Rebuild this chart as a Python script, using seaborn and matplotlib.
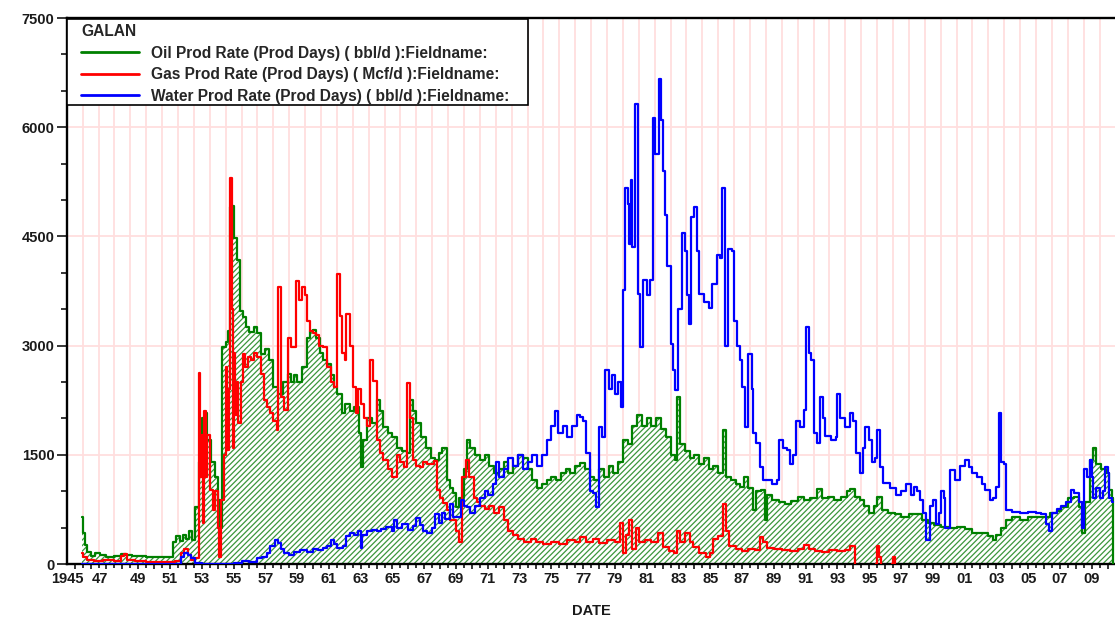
import matplotlib
matplotlib.use("Agg")
import matplotlib.pyplot as plt
import numpy as np
import pandas as pd
import seaborn as sns
from matplotlib.lines import Line2D
from matplotlib.patches import Rectangle
from matplotlib.transforms import ScaledTranslation
from matplotlib.ticker import FixedLocator, MultipleLocator, FuncFormatter

# ---------------- data ----------------
oil_t = [1945.45, 1945.55, 1945.65, 1945.8, 1946.0, 1946.3, 1946.6, 1947.0, 1947.5, 1947.9,
         1948.2, 1948.6, 1949.0, 1949.5, 1950.0, 1950.5, 1951.0, 1951.2, 1951.4, 1951.6,
         1951.8, 1952.0, 1952.2, 1952.4, 1952.6, 1952.8, 1953.0, 1953.2, 1953.35, 1953.55,
         1953.8, 1954.0, 1954.15, 1954.3, 1954.5, 1954.65, 1954.8, 1954.9, 1955.0, 1955.2,
         1955.4, 1955.6, 1955.75, 1956.0, 1956.3, 1956.5, 1956.7, 1957.0, 1957.2, 1957.5,
         1957.8, 1958.1, 1958.4, 1958.6, 1958.8, 1959.0, 1959.3, 1959.6, 1959.8, 1960.0,
         1960.2, 1960.45, 1960.6, 1960.9, 1961.1, 1961.3, 1961.5, 1961.8, 1962.0, 1962.3,
         1962.6, 1962.9, 1963.0, 1963.15, 1963.4, 1963.7, 1964.0, 1964.2, 1964.4, 1964.7,
         1965.0, 1965.3, 1965.6, 1965.9, 1966.1, 1966.3, 1966.5, 1966.8, 1967.1, 1967.4,
         1967.7, 1967.9, 1968.1, 1968.4, 1968.6, 1968.8, 1969.0, 1969.2, 1969.5, 1969.7,
         1969.9, 1970.2, 1970.5, 1970.8, 1971.1, 1971.4, 1971.7, 1972.0, 1972.3, 1972.6,
         1972.9, 1973.2, 1973.5, 1973.8, 1974.1, 1974.4, 1974.7, 1975.0, 1975.3, 1975.6,
         1975.9, 1976.2, 1976.5, 1976.8, 1977.1, 1977.4, 1977.7, 1978.0, 1978.3, 1978.6,
         1978.9, 1979.2, 1979.5, 1979.8, 1980.1, 1980.4, 1980.7, 1981.0, 1981.3, 1981.6,
         1981.9, 1982.2, 1982.5, 1982.8, 1982.9, 1983.1, 1983.4, 1983.7, 1984.0, 1984.3,
         1984.6, 1984.9, 1985.2, 1985.5, 1985.8, 1986.0, 1986.3, 1986.6, 1986.9, 1987.1,
         1987.4, 1987.7, 1987.9, 1988.2, 1988.45, 1988.6, 1988.9, 1989.3, 1989.7, 1990.1,
         1990.5, 1990.9, 1991.3, 1991.7, 1992.0, 1992.4, 1992.8, 1993.2, 1993.6, 1993.8,
         1994.1, 1994.4, 1994.7, 1995.0, 1995.3, 1995.5, 1995.8, 1996.2, 1996.6, 1997.0,
         1997.5, 1997.9, 1998.3, 1998.7, 1999.1, 1999.5, 2000.0, 2000.5, 2001.0, 2001.5,
         2002.0, 2002.5, 2002.8, 2003.0, 2003.3, 2003.6, 2004.0, 2004.5, 2005.0, 2005.5,
         2006.0, 2006.4, 2006.8, 2007.1, 2007.5, 2007.9, 2008.2, 2008.4, 2008.6, 2008.9,
         2009.1, 2009.3, 2009.6, 2009.9, 2010.1, 2010.3, 2010.36]
oil_v = [650, 420, 260, 170, 110, 150, 120, 100, 110, 140,
         120, 110, 110, 100, 95, 90, 90, 300, 380, 320,
         400, 350, 450, 330, 780, 1400, 2000, 2070, 1700, 1400,
         1190, 880, 500, 2980, 3050, 3200, 4900, 4920, 4480, 4170,
         3480, 3390, 3250, 3180, 3250, 3170, 2890, 2950, 2800, 2430,
         2340, 2500, 2610, 2500, 2600, 2500, 2700, 3110, 3200, 3210,
         3100, 2900, 2800, 2750, 2600, 2430, 2340, 2070, 2200, 2100,
         2150, 1800, 1330, 1700, 2000, 1930, 2250, 2100, 1880, 1800,
         1740, 1600, 1550, 1520, 2250, 2100, 1940, 1750, 1600, 1450,
         1430, 1520, 1600, 1150, 1050, 970, 780, 900, 1300, 1700,
         1600, 1500, 1430, 1500, 1350, 1250, 1300, 1400, 1250, 1350,
         1500, 1450, 1300, 1150, 1050, 1100, 1150, 1200, 1150, 1250,
         1300, 1250, 1350, 1385, 1300, 1200, 1150, 1300, 1200, 1350,
         1250, 1400, 1700, 1650, 1900, 2050, 1900, 2000, 1900, 2000,
         1850, 1750, 1500, 1430, 2290, 1650, 1550, 1450, 1500, 1380,
         1450, 1300, 1350, 1250, 1840, 1200, 1150, 1100, 1060, 1190,
         1050, 740, 1000, 1015, 600, 950, 880, 850, 820, 870,
         920, 880, 900, 1030, 900, 920, 880, 920, 1000, 1030,
         920, 880, 800, 700, 800, 920, 740, 700, 680, 650,
         690, 680, 600, 560, 540, 510, 500, 510, 480, 430,
         420, 380, 330, 400, 500, 600, 640, 610, 640, 640,
         650, 700, 730, 780, 900, 920, 780, 420, 850, 1430,
         1590, 1380, 1300, 1250, 1010, 900, 0]

gas_t = [1945.45, 1945.55, 1945.8, 1946.2, 1946.8, 1947.5, 1947.9, 1948.1, 1948.3, 1948.8,
         1949.5, 1950.5, 1951.3, 1951.7, 1951.9, 1952.1, 1952.3, 1952.6, 1952.8, 1952.9,
         1953.0, 1953.05, 1953.15, 1953.25, 1953.35, 1953.5, 1953.7, 1953.85, 1954.0, 1954.1,
         1954.2, 1954.4, 1954.5, 1954.6, 1954.7, 1954.8, 1954.9, 1954.95, 1955.0, 1955.1,
         1955.2, 1955.3, 1955.45, 1955.6, 1955.7, 1955.9, 1956.1, 1956.3, 1956.5, 1956.7,
         1956.9, 1957.1, 1957.3, 1957.5, 1957.7, 1957.8, 1958.0, 1958.2, 1958.4, 1958.6,
         1958.9, 1959.1, 1959.3, 1959.5, 1959.6, 1959.8, 1960.0, 1960.2, 1960.4, 1960.6,
         1960.9, 1961.1, 1961.3, 1961.5, 1961.7, 1961.8, 1962.0, 1962.1, 1962.3, 1962.5,
         1962.7, 1962.8, 1963.0, 1963.2, 1963.4, 1963.6, 1963.75, 1964.0, 1964.2, 1964.4,
         1964.7, 1965.0, 1965.3, 1965.5, 1965.7, 1965.9, 1966.1, 1966.3, 1966.5, 1966.7,
         1966.9, 1967.2, 1967.6, 1967.8, 1968.0, 1968.2, 1968.4, 1968.6, 1968.8, 1969.0,
         1969.2, 1969.4, 1969.6, 1969.8, 1970.1, 1970.3, 1970.5, 1970.8, 1971.1, 1971.4,
         1971.7, 1972.0, 1972.3, 1972.6, 1972.9, 1973.3, 1973.7, 1974.0, 1974.5, 1975.0,
         1975.5, 1976.0, 1976.5, 1976.8, 1977.2, 1977.6, 1978.0, 1978.5, 1979.0, 1979.3,
         1979.5, 1979.7, 1979.9, 1980.1, 1980.3, 1980.5, 1980.9, 1981.3, 1981.7, 1982.0,
         1982.4, 1982.7, 1982.9, 1983.1, 1983.4, 1983.7, 1983.9, 1984.3, 1984.7, 1985.0,
         1985.2, 1985.5, 1985.8, 1986.0, 1986.2, 1986.6, 1987.0, 1987.4, 1987.8, 1988.1,
         1988.3, 1988.6, 1989.0, 1989.5, 1990.0, 1990.5, 1990.9, 1991.2, 1991.6, 1992.0,
         1992.5, 1993.0, 1993.5, 1993.8, 1994.1,
         1995.45, 1995.5, 1995.6, 1995.75,
         1996.45, 1996.5, 1996.6]
gas_v = [150, 90, 60, 40, 50, 40, 110, 140, 60, 40,
         30, 30, 40, 150, 200, 120, 50, 80, 2630, 1190,
         1770, 560, 2100, 1200, 1770, 1010, 740, 1000, 500, 100,
         880, 1500, 2700, 1560, 2400, 5300, 3500, 1600, 2900, 2050,
         2500, 1930, 2500, 2890, 2700, 2850, 2800, 2900, 2840, 2610,
         2250, 2150, 2070, 1970, 1840, 3800, 2300, 2120, 3110, 2980,
         3890, 3620, 3800, 3700, 3340, 3200, 3170, 3150, 3000, 2980,
         2700, 2500, 2430, 3990, 3400, 2900, 2800, 3440, 3000, 2430,
         2070, 2400, 2200, 2000, 1900, 2800, 2520, 1700, 1520, 1430,
         1300, 1190, 1500, 1400, 1330, 2480, 2000, 1430, 1350, 1330,
         1400, 1380, 1420, 1010, 900, 840, 740, 600, 600, 450,
         300, 1200, 1430, 1190, 900, 850, 800, 750, 800, 700,
         780, 600, 450, 400, 350, 300, 350, 300, 280, 300,
         270, 330, 300, 370, 300, 350, 290, 330, 300, 560,
         150, 400, 600, 200, 500, 300, 330, 300, 420, 230,
         180, 150, 460, 300, 420, 300, 230, 150, 100, 150,
         350, 380, 830, 460, 250, 200, 180, 200, 190, 370,
         300, 220, 200, 190, 180, 200, 260, 200, 180, 170,
         190, 180, 190, 250, 0,
         0, 250, 100, 0,
         0, 100, 0]
gas_seg = [0] * 185 + [1] * 4 + [2] * 3

water_t = [1945.45, 1951.7, 1951.9, 1952.1, 1952.3, 1952.6, 1953.0, 1955.0, 1955.5, 1956.0,
           1956.5, 1956.8, 1957.1, 1957.3, 1957.6, 1957.8, 1958.0, 1958.2, 1958.5, 1958.8,
           1959.2, 1959.6, 1960.0, 1960.3, 1960.6, 1960.9, 1961.1, 1961.3, 1961.5, 1961.9,
           1962.1, 1962.3, 1962.6, 1962.8, 1963.0, 1963.1, 1963.4, 1963.7, 1964.0, 1964.3,
           1964.6, 1965.0, 1965.1, 1965.3, 1965.6, 1966.0, 1966.3, 1966.5, 1966.7, 1966.9,
           1967.2, 1967.5, 1967.7, 1967.9, 1968.1, 1968.3, 1968.6, 1968.8, 1969.0, 1969.3,
           1969.5, 1969.7, 1969.9, 1970.2, 1970.5, 1970.8, 1971.0, 1971.3, 1971.5, 1971.7,
           1972.0, 1972.3, 1972.6, 1972.9, 1973.2, 1973.5, 1973.8, 1974.1, 1974.4, 1974.7,
           1975.0, 1975.2, 1975.4, 1975.7, 1976.0, 1976.3, 1976.6, 1976.8, 1977.0, 1977.15,
           1977.4, 1977.6, 1977.8, 1978.0, 1978.2, 1978.4, 1978.6, 1978.8, 1979.0, 1979.2,
           1979.35, 1979.5, 1979.65, 1979.8, 1979.9, 1980.0, 1980.1, 1980.25, 1980.45, 1980.6,
           1980.75, 1981.0, 1981.2, 1981.4, 1981.55, 1981.75, 1981.9, 1982.0, 1982.15, 1982.3,
           1982.5, 1982.65, 1982.8, 1982.95, 1983.2, 1983.4, 1983.55, 1983.65, 1983.8, 1984.0,
           1984.15, 1984.3, 1984.6, 1984.9, 1985.1, 1985.4, 1985.6, 1985.75, 1985.95, 1986.1,
           1986.35, 1986.5, 1986.7, 1986.9, 1987.0, 1987.2, 1987.4, 1987.6, 1987.7, 1987.9,
           1988.1, 1988.3, 1988.6, 1988.9, 1989.2, 1989.35, 1989.55, 1989.8, 1990.0, 1990.2,
           1990.4, 1990.65, 1990.9, 1991.0, 1991.2, 1991.35, 1991.55, 1991.7, 1991.9, 1992.1,
           1992.2, 1992.6, 1992.9, 1993.0, 1993.15, 1993.5, 1993.8, 1994.0, 1994.2, 1994.4,
           1994.6, 1994.75, 1995.0, 1995.15, 1995.35, 1995.5, 1995.7, 1995.9, 1996.3, 1996.7,
           1997.0, 1997.3, 1997.6, 1997.8, 1998.0, 1998.2, 1998.4, 1998.6, 1998.8, 1999.0,
           1999.2, 1999.4, 1999.55, 1999.7, 1999.8, 2000.1, 2000.4, 2000.7, 2001.0, 2001.3,
           2001.5, 2001.8, 2002.1, 2002.3, 2002.6, 2002.8, 2003.0, 2003.2, 2003.3, 2003.5,
           2003.6, 2004.0, 2004.5, 2005.0, 2005.5, 2005.8, 2006.1, 2006.3, 2006.5, 2006.8,
           2007.1, 2007.4, 2007.7, 2007.9, 2008.2, 2008.4, 2008.5, 2008.7, 2008.9, 2009.0,
           2009.1, 2009.3, 2009.5, 2009.7, 2009.85, 2010.0, 2010.1, 2010.3, 2010.36]
water_v = [0, 100, 150, 130, 80, 20, 0, 20, 40, 30,
           80, 100, 150, 250, 330, 290, 200, 150, 120, 170,
           190, 170, 200, 190, 220, 250, 330, 280, 220, 250,
           380, 420, 400, 450, 220, 400, 450, 470, 450, 480,
           510, 460, 600, 500, 550, 470, 520, 630, 540, 450,
           420, 500, 690, 560, 700, 620, 820, 650, 640, 880,
           800, 780, 700, 800, 900, 1000, 950, 1100, 1400, 1200,
           1300, 1450, 1350, 1500, 1300, 1400, 1500, 1350, 1500, 1700,
           1900, 2100, 1800, 1900, 1750, 1900, 2050, 2020, 1970, 1520,
           1000, 970, 780, 1880, 1750, 2660, 2400, 2600, 2340, 2500,
           2150, 3760, 5170, 4950, 4400, 5270, 4350, 6320, 3710, 2980,
           3900, 3700, 3900, 6130, 5630, 6660, 6100, 5400, 4800, 4100,
           3020, 2660, 2390, 3500, 4540, 4300, 3700, 3300, 4760, 4900,
           4300, 3710, 3600, 3520, 3850, 4250, 4200, 5170, 3000, 4330,
           4300, 3340, 3000, 2800, 2430, 1880, 2890, 2400, 1800, 1660,
           1330, 1150, 1150, 1100, 1150, 1700, 1600, 1560, 1380, 1500,
           1970, 1880, 2110, 3250, 2900, 2800, 1800, 1660, 2290, 2000,
           1760, 1700, 1750, 2340, 2000, 1880, 2070, 1970, 1520, 1250,
           1600, 1880, 1700, 1400, 1450, 1840, 1330, 1110, 1050, 950,
           1000, 1100, 950, 1060, 1000, 880, 700, 330, 800, 880,
           550, 700, 1000, 900, 500, 1290, 1150, 1350, 1430, 1330,
           1250, 1200, 1100, 1010, 880, 900, 1060, 2070, 1400, 1380,
           740, 720, 700, 720, 700, 680, 550, 450, 700, 760,
           800, 850, 1010, 970, 850, 500, 1300, 1200, 1430, 1200,
           900, 1050, 900, 1000, 1330, 1250, 900, 850, 850]

legend_title = "GALAN"
series_labels = ["Oil Prod Rate (Prod Days) ( bbl/d ):Fieldname:",
                 "Gas Prod Rate (Prod Days) ( Mcf/d ):Fieldname:",
                 "Water Prod Rate (Prod Days) ( bbl/d ):Fieldname:"]
series_colors = ["#008000", "#ff0000", "#0000ff"]
x_label = "DATE"
y_ticks = [0, 1500, 3000, 4500, 6000, 7500]

# ---------------- figure ----------------
sns.set_theme(style="white")
plt.rcParams["font.family"] = ["Liberation Sans", "DejaVu Sans"]
plt.rcParams["hatch.linewidth"] = 0.9

W, H = 1115, 618
fig = plt.figure(figsize=(W / 100, H / 100), dpi=100)
ax = fig.add_axes([67 / W, 1 - 564 / H, (W - 67) / W, (564 - 18) / H])

oil_df = pd.DataFrame({"t": oil_t, "v": oil_v})
gas_df = pd.DataFrame({"t": gas_t, "v": gas_v, "seg": gas_seg})
water_df = pd.DataFrame({"t": water_t, "v": water_v})

ax.fill_between(oil_df["t"], 0, oil_df["v"], step="post", facecolor="white",
                edgecolor="#3c963c", hatch="//////", linewidth=0, zorder=1.5)

sns.lineplot(data=oil_df, x="t", y="v", color=series_colors[0], lw=1.6,
             drawstyle="steps-post", estimator=None, sort=False, ax=ax, zorder=3)
sns.lineplot(data=gas_df, x="t", y="v", units="seg", color=series_colors[1], lw=1.6,
             drawstyle="steps-post", estimator=None, sort=False, ax=ax, zorder=3)
sns.lineplot(data=water_df, x="t", y="v", color=series_colors[2], lw=1.6,
             drawstyle="steps-post", estimator=None, sort=False, ax=ax, zorder=3)

ax.set_xlim(1944.515, 2010.47)
ax.set_ylim(0, 7500)

# x ticks: every year (labels every 2 years), grid at half years
years = list(range(1945, 2011))
ax.xaxis.set_major_locator(FixedLocator(years))
ax.xaxis.set_minor_locator(FixedLocator([y + 0.5 for y in range(1944, 2011)]))


def xfmt(x, pos):
    y = int(round(x))
    if y == 1945:
        return "1945"
    if (y - 1945) % 2 == 0:
        return f"{y % 100:02d}"
    return ""


ax.xaxis.set_major_formatter(FuncFormatter(xfmt))
ax.yaxis.set_major_locator(FixedLocator(y_ticks))
ax.yaxis.set_minor_locator(MultipleLocator(500))

ax.tick_params(axis="x", which="major", direction="out", length=3.8, width=1.1,
               color="black", labelsize=10.5, pad=2, bottom=True)
ax.tick_params(axis="x", which="minor", direction="out", length=2.6, width=1.1,
               color="black", bottom=True)
ax.tick_params(axis="y", which="major", direction="out", length=7.5, width=1.1,
               color="black", labelsize=10.5, pad=1.5, left=True)
ax.tick_params(axis="y", which="minor", direction="out", length=4.5, width=1.1,
               color="black", left=True)

ax.grid(False)
ax.grid(which="minor", axis="x", color="#ffdede", lw=1.3, zorder=0)
ax.grid(which="major", axis="y", color="#ffdede", lw=1.3, zorder=0)
ax.set_axisbelow(True)

for side in ["left", "bottom", "top"]:
    ax.spines[side].set_visible(True)
    ax.spines[side].set_color("black")
    ax.spines[side].set_linewidth(1.7)
ax.spines["right"].set_visible(False)

ax.set_xlabel(x_label, fontsize=10.5, fontweight="bold", labelpad=13, color="#1a1a1a")
ax.set_ylabel("")

fig.canvas.draw()
for lab in ax.get_xticklabels() + ax.get_yticklabels():
    lab.set_fontweight("bold")
    lab.set_color("#1a1a1a")
# the first two year labels sit a little left of their ticks in the reference
shift = ScaledTranslation(-7 / 100, 0, fig.dpi_scale_trans)
for lab in ax.get_xticklabels():
    if lab.get_text() in ("1945", "47"):
        lab.set_transform(lab.get_transform() + shift)

# legend: frame drawn as a box in the upper-left corner of the plot
box = Rectangle((67 / W, 1 - 105 / H), (528 - 67) / W, (105 - 19) / H,
                transform=fig.transFigure, facecolor="white", edgecolor="black",
                linewidth=1.2, zorder=4, clip_on=False)
ax.add_patch(box)

handles = [Line2D([], [], color=c, lw=2) for c in series_colors]
leg = ax.legend(handles, series_labels, title=legend_title, loc="upper left",
                bbox_to_anchor=(81 / W, 1 - 24 / H), bbox_transform=fig.transFigure,
                borderaxespad=0, borderpad=0, frameon=False,
                prop={"weight": "bold", "size": 11.2},
                title_fontproperties={"weight": "bold", "size": 11.2},
                alignment="left", handlelength=3.7, handletextpad=0.8,
                labelspacing=0.42)
leg.set_zorder(5)

fig.savefig("out.png", dpi=100)
